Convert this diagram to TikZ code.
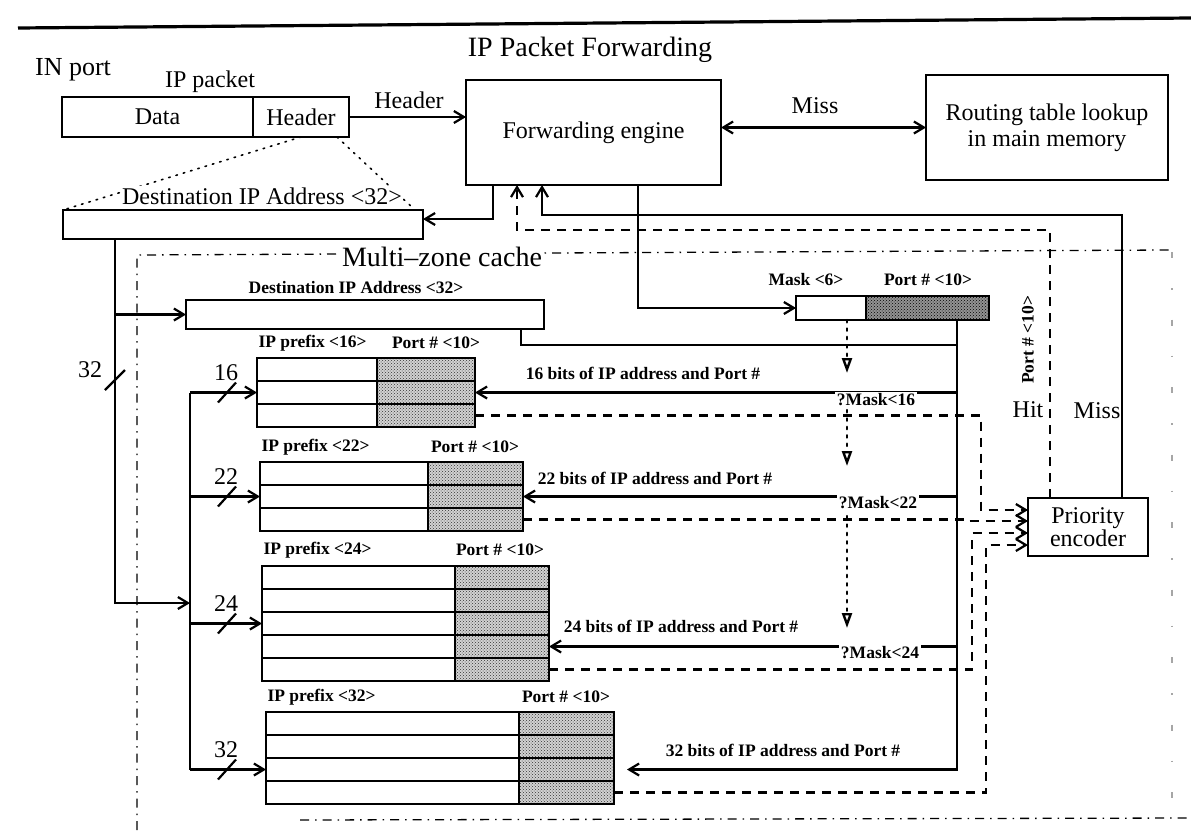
\documentclass[tikz,border=0pt]{standalone}
\usepackage{fontspec}
\setmainfont{Liberation Serif}
\usetikzlibrary{arrows.meta,patterns,calc}
\newcommand\iptable[6]{%
  \foreach \rw in {1,...,#6}{%
    \node[cellp, minimum width={(#3-#2)*1pt}, anchor=north west] (#1-a\rw) at (#2,{#5+(\rw-1)*23}) {};
    \node[cellq, minimum width={(#4-#3)*1pt}, anchor=north west] (#1-b\rw) at (#3,{#5+(\rw-1)*23}) {};
  }%
}
\begin{document}
\begin{tikzpicture}[x=1pt,y=-1pt,
  box/.style={draw, line width=2.2pt, inner sep=0pt, outer sep=0pt},
  cellp/.style={box, minimum height=23pt},
  cellq/.style={box, minimum height=23pt, preaction={fill=gray!35}, pattern=crosshatch dots, pattern color=black!80},
  big/.style={font=\fontsize{28}{30}\selectfont},
  big2/.style={font=\fontsize{26}{28}\selectfont},
  med/.style={font=\fontsize{24}{26}\selectfont},
  sml/.style={font=\bfseries\fontsize{17.5}{19}\selectfont},
  ln/.style={line width=2.2pt},
  dsh/.style={line width=2.2pt, dash pattern=on 9pt off 7pt},
  dd/.style={line width=1.3pt, dash pattern=on 9pt off 6pt on 1.5pt off 6pt},
  dotl/.style={line width=1.6pt, dash pattern=on 1.6pt off 6pt, line cap=round},
  dotm/.style={line width=2.4pt, dash pattern=on 2.4pt off 6pt, line cap=round},
  arr/.style={-{Straight Barb[length=10pt,width=12pt]}},
  arrb/.style={{Straight Barb[length=10pt,width=12pt]}-{Straight Barb[length=10pt,width=12pt]}},
  tri/.style={-{Triangle[open,length=15pt,width=10pt]}},
  wlab/.style={fill=white, inner sep=1.5pt}
]
\useasboundingbox (0,0) rectangle (1191,830);
\fill[white] (0,0) rectangle (1191,830);

% top rule
\draw[line width=3.2pt] (18,28) -- (1191,18);

% multi-zone cache frame
\draw[dd] (137,830) -- (137,255) -- (1170,250);
\draw[dd,gray!70,dash pattern=on 6pt off 30pt on 1.5pt off 30pt] (1172,252) -- (1172,818);
\draw[dd] (300,820) -- (1191,818);

% titles
\node[big] (title) at (590,50) {IP Packet Forwarding};
\node[big2] (inport) at (73,70) {IN port};
\node[med] (ippkt) at (210,82) {IP packet};

% packet
\node[box, med, minimum width=191pt, minimum height=40pt] (data) at (157.5,117) {Data};
\node[box, med, minimum width=96pt, minimum height=40pt] (header) at (301,117) {Header};

% engine and routing
\node[box, med, minimum width=255pt, minimum height=105pt] (engine) at (593.5,132.5) {Forwarding engine};
\node[box, med, minimum width=242pt, minimum height=105pt, align=center] (routing) at (1047,127.5) {Routing table lookup\\in main memory};

% destination box 1
\node[box, minimum width=360pt, minimum height=29pt] (dest1) at (243,224.5) {};
\draw[dotl] (header.south) -- (dest1.north west);
\draw[dotl] ([xshift=-12pt]header.south east) -- ([xshift=-8pt]dest1.north east);
\node[med, wlab] (dlab1) at (262,196) {Destination IP Address <32>};

% header arrow
\draw[ln,arr] (header.east) -- (header.east -| engine.west);
\node[med] (hlab) at (409,100) {Header};

% miss arrow
\draw[ln,arrb] (routing.west -| engine.east) -- (routing.west);
\node[med] (misslab) at (815,106) {Miss};

% destination box 2 and mask box
\node[box, minimum width=358pt, minimum height=29pt] (dest2) at (365,314.5) {};
\node[sml] (dlab2) at (356,288) {Destination IP Address <32>};
\node[box, minimum width=70pt, minimum height=24pt] (maskL) at (831,308) {};
\node[box, minimum width=123pt, minimum height=24pt, preaction={fill=gray!85}, pattern=crosshatch dots, pattern color=black] (maskP) at (927.5,308) {};
\node[sml] (mlab) at (806,280) {Mask <6>};
\node[sml] (plab) at (928,280) {Port \# <10>};

% priority encoder
\node[box, med, minimum width=120pt, minimum height=58pt, align=center] (enc) at (1088,527) {Priority\\[-3pt]encoder};

% tables
\iptable{t16}{257}{377}{475}{358}{3}
\iptable{t22}{260}{428}{523}{462}{3}
\iptable{t24}{262}{455}{549}{566}{5}
\iptable{t32}{266}{519}{614}{712}{4}
\node[sml, anchor=west] (p16) at (255,343) {IP prefix <16>};
\node[sml] (q16) at (436,343) {Port \# <10>};
\node[sml, anchor=west] (p22) at (258,447) {IP prefix <22>};
\node[sml] (q22) at (475,447) {Port \# <10>};
\node[sml, anchor=west] (p24) at (260,550) {IP prefix <24>};
\node[sml] (q24) at (500,550) {Port \# <10>};
\node[sml, anchor=west] (p32) at (264,697) {IP prefix <32>};
\node[sml] (q32) at (566,697) {Port \# <10>};

% coordinates
\coordinate (b1) at (115,603);
\coordinate (tr2) at (190,603);
\coordinate (l1) at (493,219);
\coordinate (h1) at (517,230);
\coordinate (h2) at (1050,230);
\coordinate (m1) at (542,215);
\coordinate (m2) at (1122,215);
\coordinate (k1) at (638,308);
\coordinate (v1) at (957,769.5);
\coordinate (d1) at (521,345);
\coordinate (o16) at (981,0);
\coordinate (o22) at (967,0);
\coordinate (o24) at (972,0);
\coordinate (o32) at (986,0);
\coordinate (e1) at ([yshift=17pt]enc.west);
\coordinate (e2) at ([yshift=6pt]enc.west);
\coordinate (e3) at ([yshift=-6pt]enc.west);
\coordinate (e4) at ([yshift=-18pt]enc.west);
\coordinate (q) at (847,0);

% trunks
\draw[ln,arr] (dest1.south -| b1) -- (b1) -- (tr2);
\draw[ln,arr] (b1 |- dest2.west) -- (dest2.west);
\draw[ln] (tr2 |- t16-a2.west) -- (tr2 |- t32-a3.west);
\foreach \tb/\rw/\lab in {t16/2/16, t22/2/22, t24/3/24, t32/3/32}{
  \draw[ln,arr] (tr2 |- \tb-a\rw.west) -- (\tb-a\rw.west);
  \draw[ln] ($(tr2 |- \tb-a\rw.west)+(28,10)$) -- ++(18,-20);
  \node[med] at ($(tr2 |- \tb-a\rw.west)+(36,-20)$) {\lab};
}
\draw[ln] ($(b1 |- 0,380)+(-10,10)$) -- ++(20,-20);
\node[med] (lab32) at (90,370) {32};

% engine links
\draw[ln,arr] (engine.south -| l1) -- (l1) -- (l1 -| dest1.east);
\draw[dsh,arr] (enc.north -| h2) -- (h2) -- (h1) -- (engine.south -| h1);
\draw[ln,arr] (enc.north -| m2) -- (m2) -- (m1) -- (engine.south -| m1);
\draw[ln,arr] (engine.south -| k1) -- (k1) -- (maskL.west);
\node[med] (hitlab) at (1028,410) {Hit};
\node[med] (misslab2) at (1097,411) {Miss};
\node[sml, rotate=90] (hport) at (1028,340) {Port \# <10>};

% port lines to tables
\draw[ln] (dest2.south -| d1) -- (d1) -- (d1 -| v1);
\draw[ln,arr] (maskP.south -| v1) -- (v1) -- ([xshift=13pt]t32-b3.east);
\draw[ln,arr] (v1 |- t16-b2.east) -- (t16-b2.east);
\draw[ln,arr] (v1 |- t22-b2.east) -- (t22-b2.east);
\draw[ln,arr] (v1 |- t24-b4.east) -- (t24-b4.east);
\node[sml] (l16) at (643,373) {16 bits of IP address and Port \#};
\node[sml] (l22) at (655,478) {22 bits of IP address and Port \#};
\node[sml] (l24) at (681,626) {24 bits of IP address and Port \#};
\node[sml] (l32) at (783,750) {32 bits of IP address and Port \#};

% hit outputs to encoder
\draw[dsh,arr] (t16-b3.east) -- (t16-b3.east -| o16) -- (o16 |- e1) -- (e1);
\draw[dsh,arr] (t22-b3.east) -- (t22-b3.east -| o22) -- (o22 |- e2) -- (e2);
\draw[dsh,arr] (t24-b5.east) -- (t24-b5.east -| o24) -- (o24 |- e3) -- (e3);
\draw[dsh,arr] (t32-b4.east) -- (t32-b4.east -| o32) -- (o32 |- e4) -- (e4);

% mask comparison chain
\draw[dotm,tri] (maskL.south -| q) -- (q |- 0,373);
\draw[dotm,tri] (q |- 0,410) -- (q |- 0,466);
\draw[dotm,tri] (q |- 0,516) -- (q |- 0,628);
\node[sml, wlab] (mk16) at (876,400) {?Mask<16};
\node[sml, wlab] (mk22) at (878,503) {?Mask<22};
\node[sml, wlab] (mk24) at (880,653) {?Mask<24};

% cache label
\node[big, wlab] (cache) at (442,257) {Multi--zone cache};
\end{tikzpicture}
\end{document}
